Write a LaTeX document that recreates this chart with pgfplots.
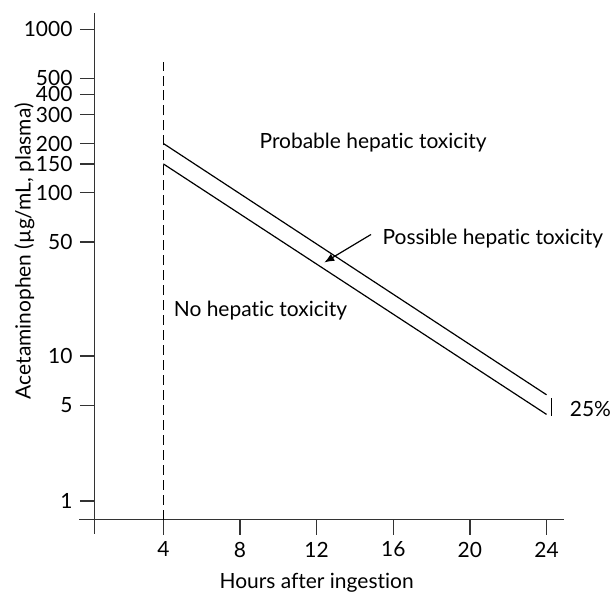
\documentclass[border=0pt]{standalone}
\usepackage{fontspec}
\setmainfont{Lato}[Ligatures={NoCommon,NoRequired,NoContextual}]
\usepackage{pgfplots}
\pgfplotsset{compat=1.18}
\usetikzlibrary{arrows.meta}
\begin{document}
\fontsize{10.5bp}{12.6bp}\selectfont
\begin{tikzpicture}
\begin{axis}[
  scale only axis, width=235bp, height=253.7bp,
  ymode=log, xmin=0.42, xmax=24.9, ymin=1, ymax=1253,
  axis lines=left, axis line style={-, black!80, line width=0.7bp},
  xtick={4,8,12,16,20,24},
  ytick={1.3,5,10,50,100,150,200,300,400,500,1000},
  yticklabels={1,5,10,50,100,150,200,300,400,500,1000},
  minor tick length=0pt,
  tick align=outside,
  major tick length=7.5bp,
  tick style={black!80, line width=0.7bp},
  /pgf/number format/assume math mode=true,
  ticklabel style={font=\fontsize{10.5bp}{12bp}\selectfont},
  xlabel={Hours after ingestion},
  ylabel={Acetaminophen (µg/mL, plasma)},
  label style={font=\fontsize{10.5bp}{12bp}\selectfont},
  xlabel style={at={(axis description cs:0.473,-0.125)}, anchor=center},
  ylabel style={at={(axis description cs:-0.15,0.53)}, anchor=center},
  clip=false,
]
\addplot[black, line width=0.6bp] coordinates {(4,200) (24,5.8)};
\addplot[black, line width=0.6bp] coordinates {(4,150) (24,4.4)};
\addplot[black, line width=0.6bp, dash pattern=on 5bp off 2.5bp] coordinates {(4,1) (4,631)};
\draw[black, line width=0.6bp] (axis cs:24.28,5.52) -- (axis cs:24.28,4.29);
\draw[black, line width=0.6bp, -{Latex[length=5bp,width=4bp]}] (axis cs:14.84,55.5) -- (axis cs:12.4,37.4);
\node[anchor=base, inner sep=0pt] at (axis cs:14.95,186.7) {Probable hepatic toxicity};
\node[anchor=base, inner sep=0pt] at (axis cs:21.2,48.1) {Possible hepatic toxicity};
\node[anchor=base, inner sep=0pt] at (axis cs:9.07,17.5) {No hepatic toxicity};
\node[anchor=base west, inner sep=0pt] at (axis cs:25.2,4.3) {25\%};
\end{axis}
\draw[black!80, line width=0.7bp] (current axis.south west) -- ++(-8bp,0);
\draw[black!80, line width=0.7bp] (current axis.south west) -- ++(0,-7bp);
\path (current axis.south west) ++(-47.5bp,-36.65bp) rectangle ++(305.5bp,297bp);
\end{tikzpicture}
\end{document}
